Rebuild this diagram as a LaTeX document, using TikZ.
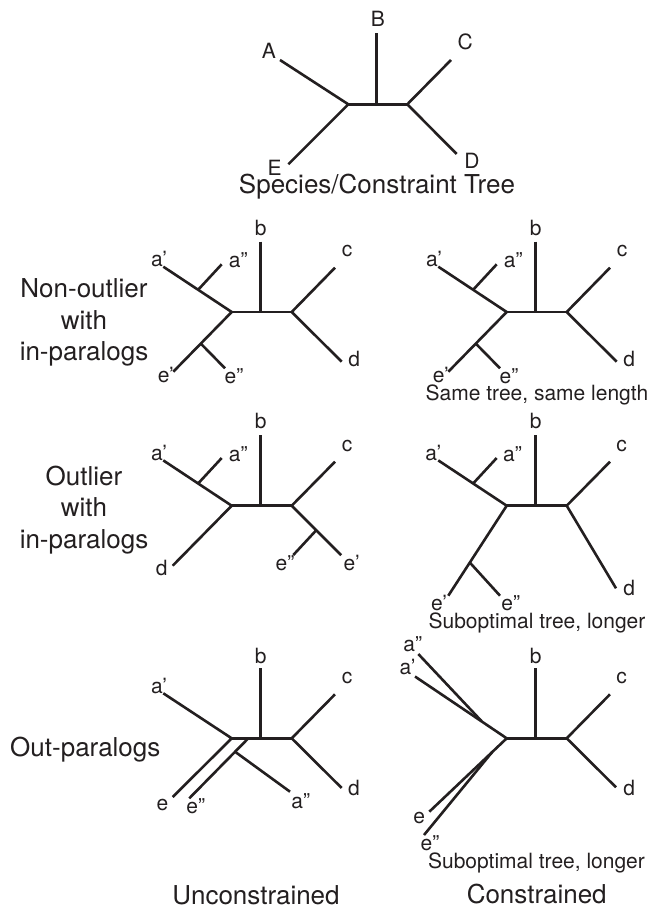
\documentclass[tikz,border=0pt]{standalone}
\usepackage{fontspec}
\setmainfont{TeX Gyre Heros}
\definecolor{ink}{RGB}{35,31,32}
\begin{document}
\begin{tikzpicture}[x=1pt,y=-1pt,
  branch/.style={draw=ink,line width=2.6pt,line join=miter},
  leaf/.style={anchor=base,inner sep=0pt,text=ink,font=\fontsize{21}{25}\selectfont},
  caption/.style={anchor=base,inner sep=0pt,text=ink,font=\fontsize{21}{25}\selectfont},
  heading/.style={anchor=base,inner sep=0pt,text=ink,font=\fontsize{26}{31}\selectfont}]
\useasboundingbox (0,0) rectangle (651,910);

% ---------- species / constraint tree ----------
\coordinate (sA) at (280,60);
\coordinate (sE) at (288.3,164.3);
\coordinate (sL) at (348.3,104.3);
\coordinate (sM) at (376.7,104.3);
\coordinate (sB) at (376.7,33);
\coordinate (sR) at (407.3,104.3);
\coordinate (sC) at (451,60);
\coordinate (sD) at (456.7,154);
\draw[branch] (sA) -- (sL) -- (sE);
\draw[branch] (sL) -- (sR);
\draw[branch] (sC) -- (sR) -- (sD);
\draw[branch] (sB) -- (sM);
\node[leaf] (lsA) at (269,58.3) {A};
\node[leaf] (lsB) at (377.8,26.7) {B};
\node[leaf] (lsC) at (465.3,49.3) {C};
\node[leaf] (lsD) at (472,168.3) {D};
\node[leaf] (lsE) at (274.5,175) {E};
\node[heading] (title) at (377,193.3) {Species/Constraint Tree};

% ---------- non-outlier with in-paralogs ----------
\node[heading] (h1a) at (84,297.3) {Non-outlier};
\node[heading] (h1b) at (84,329) {with};
\node[heading] (h1c) at (84,360.7) {in-paralogs};

% unconstrained
\coordinate (nL) at (231.7,312);
\coordinate (nM) at (260.7,312);
\coordinate (nB) at (260.7,241.7);
\coordinate (nR) at (291.7,312);
\coordinate (nA1) at (163.3,266.7);
\coordinate (nAx) at (198.3,289.6);
\coordinate (nA2) at (221.7,264.3);
\coordinate (nE1) at (173.3,371.7);
\coordinate (nEx) at (200.7,343.5);
\coordinate (nE2) at (225,368.3);
\coordinate (nC) at (335,267.7);
\coordinate (nD) at (341.7,361.7);
\draw[branch] (nA1) -- (nL) -- (nE1);
\draw[branch] (nL) -- (nR);
\draw[branch] (nC) -- (nR) -- (nD);
\draw[branch] (nB) -- (nM);
\draw[branch] (nAx) -- (nA2);
\draw[branch] (nEx) -- (nE2);
\node[leaf] (lnA1) at (159,266.7) {a’};
\node[leaf] (lnA2) at (238.3,267.3) {a”};
\node[leaf] (lnB) at (260.8,235) {b};
\node[leaf] (lnC) at (347,256.7) {c};
\node[leaf] (lnD) at (354.3,366.7) {d};
\node[leaf] (lnE1) at (165.8,382.3) {e’};
\node[leaf] (lnE2) at (234,383.3) {e”};

% constrained
\coordinate (mL) at (506.7,312);
\coordinate (mM) at (535.7,312);
\coordinate (mB) at (535.7,241.7);
\coordinate (mR) at (566.7,312);
\coordinate (mA1) at (438.3,266.7);
\coordinate (mAx) at (473.3,289.6);
\coordinate (mA2) at (496.7,264.3);
\coordinate (mE1) at (448.3,371.7);
\coordinate (mEx) at (475.7,343.5);
\coordinate (mE2) at (500,368.3);
\coordinate (mC) at (610,267.7);
\coordinate (mD) at (616.7,361.7);
\draw[branch] (mA1) -- (mL) -- (mE1);
\draw[branch] (mL) -- (mR);
\draw[branch] (mC) -- (mR) -- (mD);
\draw[branch] (mB) -- (mM);
\draw[branch] (mAx) -- (mA2);
\draw[branch] (mEx) -- (mE2);
\node[leaf] (lmA1) at (434,266.7) {a’};
\node[leaf] (lmA2) at (513.3,267.3) {a”};
\node[leaf] (lmB) at (535.8,235) {b};
\node[leaf] (lmC) at (622,256.7) {c};
\node[leaf] (lmD) at (629.3,366.7) {d};
\node[leaf] (lmE1) at (440.8,382.3) {e’};
\node[leaf] (lmE2) at (509,383.3) {e”};
\node[caption] (cap1) at (537,400) {Same tree, same length};

% ---------- outlier with in-paralogs ----------
\node[heading] (h2a) at (84,485) {Outlier};
\node[heading] (h2b) at (84,516.7) {with};
\node[heading] (h2c) at (84,548.3) {in-paralogs};

% unconstrained
\coordinate (oL) at (231.7,505.7);
\coordinate (oM) at (260.7,505.7);
\coordinate (oB) at (260.7,435.4);
\coordinate (oR) at (291.7,505.7);
\coordinate (oA1) at (163.3,460.4);
\coordinate (oAx) at (198.3,483.3);
\coordinate (oA2) at (221.7,458);
\coordinate (oD) at (172.7,565.7);
\coordinate (oC) at (335,461.7);
\coordinate (oE1) at (341.2,555.2);
\coordinate (oEx) at (316,530.5);
\coordinate (oE2) at (293.3,555);
\draw[branch] (oA1) -- (oL) -- (oD);
\draw[branch] (oL) -- (oR);
\draw[branch] (oC) -- (oR) -- (oE1);
\draw[branch] (oB) -- (oM);
\draw[branch] (oAx) -- (oA2);
\draw[branch] (oEx) -- (oE2);
\node[leaf] (loA1) at (159,460) {a’};
\node[leaf] (loA2) at (238.3,461.7) {a”};
\node[leaf] (loB) at (260.8,428.5) {b};
\node[leaf] (loC) at (347,451.7) {c};
\node[leaf] (loD) at (161.7,575.7) {d};
\node[leaf] (loE2) at (285,570) {e”};
\node[leaf] (loE1) at (351.7,570) {e’};

% constrained
\coordinate (pL) at (506.7,505.7);
\coordinate (pM) at (535.7,505.7);
\coordinate (pB) at (535.7,435.4);
\coordinate (pR) at (566.7,505.7);
\coordinate (pA1) at (438.3,460.4);
\coordinate (pAx) at (473.3,483.3);
\coordinate (pA2) at (496.7,458);
\coordinate (pC) at (610,461.7);
\coordinate (pD) at (616,588.3);
\coordinate (pE1) at (448.3,595.7);
\coordinate (pEx) at (469.8,562.5);
\coordinate (pE2) at (500,595.7);
\draw[branch] (pA1) -- (pL) -- (pE1);
\draw[branch] (pL) -- (pR);
\draw[branch] (pC) -- (pR) -- (pD);
\draw[branch] (pB) -- (pM);
\draw[branch] (pAx) -- (pA2);
\draw[branch] (pEx) -- (pE2);
\node[leaf] (lpA1) at (433.3,460) {a’};
\node[leaf] (lpA2) at (512.5,461.7) {a”};
\node[leaf] (lpB) at (535.8,428.5) {b};
\node[leaf] (lpC) at (621.7,451.7) {c};
\node[leaf] (lpD) at (629.3,595) {d};
\node[leaf] (lpE1) at (439,610) {e’};
\node[leaf] (lpE2) at (510.8,610) {e”};
\node[caption] (cap2) at (537,628.3) {Suboptimal tree, longer};

% ---------- out-paralogs ----------
\node[heading] (h3) at (85.3,756.7) {Out-paralogs};

% unconstrained
\coordinate (qL) at (231.7,738.3);
\coordinate (qM) at (260.7,738.3);
\coordinate (qB) at (260.7,668.3);
\coordinate (qR) at (291.7,738.3);
\coordinate (qA1) at (163.3,693.3);
\coordinate (qC) at (335,694.3);
\coordinate (qD) at (341.7,788);
\coordinate (qE1) at (172.7,797);
\coordinate (qE2s) at (248.3,738.3);
\coordinate (qE2) at (189.3,798.3);
\coordinate (qA2s) at (235,751.7);
\coordinate (qA2) at (290,791.7);
\draw[branch] (qA1) -- (qL) -- (qE1);
\draw[branch] (qL) -- (qR);
\draw[branch] (qC) -- (qR) -- (qD);
\draw[branch] (qB) -- (qM);
\draw[branch] (qE2s) -- (qE2);
\draw[branch] (qA2s) -- (qA2);
\node[leaf] (lqA1) at (159,693.3) {a’};
\node[leaf] (lqB) at (260.8,663.3) {b};
\node[leaf] (lqC) at (347,683.3) {c};
\node[leaf] (lqD) at (354,795) {d};
\node[leaf] (lqE1) at (162.5,810) {e};
\node[leaf] (lqE2) at (195.8,813.3) {e”};
\node[leaf] (lqA2) at (300.8,808.3) {a”};

% constrained
\coordinate (rL) at (506.7,738.3);
\coordinate (rM) at (535.7,738.3);
\coordinate (rB) at (535.7,668.3);
\coordinate (rR) at (566.7,738.3);
\coordinate (rC) at (610,694.3);
\coordinate (rD) at (616,787.3);
\coordinate (rA1) at (415,676.5);
\coordinate (rA2) at (418.3,654);
\coordinate (rA2s) at (481.7,721.3);
\coordinate (rE1) at (429.3,811.7);
\coordinate (rE2) at (424,835);
\coordinate (rE2s) at (492.2,752);
\draw[branch] (rA1) -- (rL) -- (rE1);
\draw[branch] (rL) -- (rR);
\draw[branch] (rC) -- (rR) -- (rD);
\draw[branch] (rB) -- (rM);
\draw[branch] (rA2s) -- (rA2);
\draw[branch] (rE2s) -- (rE2);
\node[leaf] (lrA2) at (412.8,651.7) {a”};
\node[leaf] (lrA1) at (407.5,674) {a’};
\node[leaf] (lrB) at (535.8,663.3) {b};
\node[leaf] (lrC) at (621.7,683.3) {c};
\node[leaf] (lrD) at (629.3,795) {d};
\node[leaf] (lrE1) at (419.2,823.3) {e};
\node[leaf] (lrE2) at (430,850) {e”};
\node[caption] (cap3) at (536.5,868.3) {Suboptimal tree, longer};

% ---------- column headings ----------
\node[heading] (colU) at (256,904) {Unconstrained};
\node[heading] (colC) at (536.7,903) {Constrained};
\end{tikzpicture}
\end{document}
